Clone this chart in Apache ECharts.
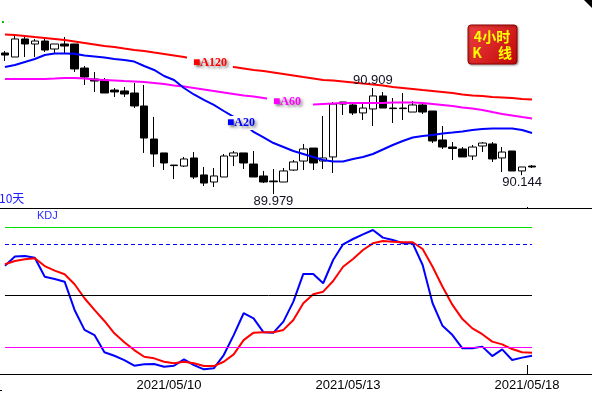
<!DOCTYPE html>
<html><head><meta charset="utf-8">
<script src="https://cdn.jsdelivr.net/npm/echarts@6/dist/echarts.min.js"></script>
<style>html,body{margin:0;padding:0;background:#fff}#c{width:592px;height:396px}</style>
</head><body><div id="c"></div>
<script>
// ---- data ----
const days = ['2021/05/05','2021/05/06','2021/05/07','2021/05/10','2021/05/11','2021/05/12','2021/05/13','2021/05/14','2021/05/17','2021/05/18'];
const hours = ['00:00','04:00','08:00','12:00','16:00','20:00'];
const tickLabels = ['2021/05/10','2021/05/13','2021/05/18'];

const opens = [91.216,91.181,91.339,91.295,91.321,91.251,91.295,91.295,91.084,90.988,
  90.979,90.891,90.883,90.865,90.751,90.461,90.339,90.233,90.224,90.295,
  90.146,90.084,90.128,90.312,90.339,90.242,90.137,90.093,90.084,90.189,
  90.268,90.382,90.268,90.304,90.786,90.760,90.690,90.725,90.839,90.733,
  90.733,90.698,90.760,90.707,90.453,90.391,90.374,90.312,90.400,90.418,
  90.295,90.356,90.181,90.224];
const closes = [91.198,91.339,91.295,91.321,91.242,91.295,91.277,91.076,91.005,90.970,
  90.865,90.874,90.856,90.751,90.470,90.330,90.251,90.228,90.286,90.128,
  90.075,90.137,90.312,90.339,90.251,90.128,90.084,90.086,90.181,90.260,
  90.374,90.251,90.295,90.768,90.768,90.690,90.733,90.839,90.733,90.728,
  90.728,90.760,90.698,90.444,90.391,90.378,90.304,90.391,90.426,90.286,
  90.347,90.181,90.216,90.216];
const lows = [91.146,91.181,91.181,91.181,91.225,91.216,91.216,91.049,90.935,90.874,
  90.865,90.830,90.830,90.733,90.339,90.216,90.189,90.110,90.216,90.110,
  90.049,90.040,90.128,90.224,90.198,90.128,90.075,89.979,90.084,90.181,
  90.189,90.189,90.198,90.163,90.672,90.672,90.628,90.575,90.733,90.602,
  90.628,90.698,90.681,90.426,90.374,90.277,90.304,90.277,90.347,90.260,
  90.172,90.181,90.144,90.207];
const highs = [91.234,91.383,91.356,91.339,91.339,91.295,91.356,91.295,91.102,91.049,
  90.997,90.909,90.918,90.953,90.935,90.655,90.339,90.233,90.304,90.347,
  90.216,90.207,90.330,90.356,90.339,90.356,90.181,90.198,90.207,90.277,
  90.418,90.382,90.663,90.786,90.786,90.768,90.768,90.909,90.874,90.821,
  90.865,90.795,90.777,90.707,90.575,90.435,90.391,90.409,90.435,90.435,
  90.391,90.356,90.216,90.233];

const ma20 = [91.093,91.111,91.137,91.163,91.198,91.212,91.212,91.210,91.194,91.185,
  91.176,91.163,91.155,91.141,91.102,91.067,91.014,90.979,90.909,90.852,
  90.804,90.760,90.707,90.655,90.602,90.523,90.475,90.426,90.391,90.356,
  90.330,90.303,90.277,90.264,90.264,90.286,90.303,90.330,90.369,90.409,
  90.444,90.475,90.488,90.497,90.510,90.518,90.527,90.540,90.549,90.554,
  90.554,90.554,90.540,90.514];
const ma60 = [90.988,90.988,90.988,90.988,90.988,90.992,90.997,90.997,90.992,90.983,
  90.979,90.975,90.970,90.966,90.962,90.953,90.944,90.931,90.922,90.909,
  90.896,90.883,90.869,90.856,90.843,90.834,90.821,90.808,90.795,90.782,
  90.769,90.764,90.769,90.773,90.777,90.777,90.777,90.777,90.777,90.782,
  90.782,90.782,90.777,90.769,90.760,90.751,90.738,90.729,90.716,90.698,
  90.681,90.668,90.654,90.641];
const ma120 = [91.378,91.374,91.365,91.356,91.348,91.339,91.330,91.317,91.304,91.291,
  91.277,91.269,91.255,91.242,91.234,91.220,91.207,91.194,91.181,91.163,
  91.146,91.128,91.111,91.093,91.080,91.067,91.058,91.045,91.032,91.019,
  91.005,90.992,90.979,90.975,90.966,90.957,90.948,90.940,90.931,90.918,
  90.909,90.900,90.891,90.883,90.874,90.865,90.852,90.843,90.839,90.830,
  90.826,90.821,90.812,90.808];

const kdjK = [67.4,72.7,73.0,72.0,61.0,59.7,58.1,41.7,30.1,27.1,
  17.1,15.1,12.6,9.3,10.1,10.3,8.7,9.3,13.0,9.7,
  7.2,7.8,15.5,27.1,39.8,36.8,28.7,28.5,34.9,46.5,
  62.6,62.6,57.2,70.7,79.8,82.9,85.6,88.1,83.7,82.3,
  80.4,80.4,67.8,45.6,32.5,27.1,19.4,19.4,20.4,14.9,
  18.8,12.6,14.0,15.1];
const kdjD = [68.2,70.1,71.1,71.7,67.2,64.5,62.4,56.6,48.5,41.7,
  35.3,28.1,22.9,18.4,14.5,13.6,11.6,10.7,11.6,10.7,
  9.1,9.1,11.6,15.9,24.2,28.5,28.7,28.7,30.1,35.9,
  45.6,50.8,52.3,58.5,66.8,71.3,76.5,80.4,81.7,81.3,
  81.0,81.0,77.1,66.8,55.2,44.6,36.4,31.0,27.6,23.3,
  21.7,19.0,17.1,16.9];
const kdjLevels = [90, 80, 50, 20];

// ---- build ----
const allSlots = [];
days.forEach(d => hours.forEach(h => allSlots.push(d + ' ' + h)));
const categories = allSlots.slice(1, 1 + opens.length);
const candles = opens.map((o, i) => [o, closes[i], lows[i], highs[i]]);
const hiIdx = 37, loIdx = 27, lastLoIdx = 52;

const FONT = '"Liberation Sans", Arial, sans-serif';
const chart = echarts.init(document.getElementById('c'));
const last = categories.length - 1;
const levelStyles = [
  {color:'#00e000', width:1, type:'solid'},
  {color:'#0000ff', width:1, type:[4,3]},
  {color:'#000000', width:1, type:'solid'},
  {color:'#ff00ff', width:1, type:'solid'}
];

chart.setOption({
  animation: false,
  backgroundColor: '#fff',
  grid: [
    {left: -3, top: 0, width: 540, height: 208},
    {left: -3, top: 208, width: 540, height: 166}
  ],
  xAxis: [
    {type:'category', gridIndex:0, data: categories, show:false, boundaryGap:true},
    {type:'category', gridIndex:1, data: categories, boundaryGap:true,
      axisLine:{show:false},
      axisTick:{show:false},
      axisLabel:{show:true, color:'#000', fontSize:13, fontFamily:FONT, margin:5,
        padding:[0,10,0,0],
        interval: (i, v) => tickLabels.includes(v.slice(0,10)) && v.endsWith('00:00'),
        formatter: v => v.slice(0,10)},
      splitLine:{show:false}}
  ],
  yAxis: [
    {type:'value', gridIndex:0, min:89.856, max:91.681, show:false, splitLine:{show:false}},
    {type:'value', gridIndex:1, min:4.5, max:100.9, show:false, splitLine:{show:false}}
  ],
  series: [
    {type:'candlestick', xAxisIndex:0, yAxisIndex:0, data: candles, barWidth:8,
      itemStyle:{color:'#fff', color0:'#000', borderColor:'#000', borderColor0:'#000', borderWidth:1},
      markPoint:{symbol:'circle', symbolSize:0, silent:true,
        label:{show:true, color:'#101020', fontSize:13, fontFamily:FONT},
        data:[
          {coord:[hiIdx, highs[hiIdx]], value:highs[hiIdx].toFixed(3), label:{position:'top', distance:1}},
          {coord:[loIdx, lows[loIdx]], value:lows[loIdx].toFixed(3), label:{position:'bottom', distance:1}},
          {coord:[lastLoIdx, lows[lastLoIdx]], value:lows[lastLoIdx].toFixed(3), label:{position:'bottom', distance:1}}
        ]}},
    {type:'line', xAxisIndex:0, yAxisIndex:0, data: ma120, symbol:'none', lineStyle:{color:'#ff0000', width:2}},
    {type:'line', xAxisIndex:0, yAxisIndex:0, data: ma60, symbol:'none', lineStyle:{color:'#ff00ff', width:2}},
    {type:'line', xAxisIndex:0, yAxisIndex:0, data: ma20, symbol:'none', lineStyle:{color:'#0000ff', width:2}},
    {type:'line', xAxisIndex:1, yAxisIndex:1, data: kdjK, symbol:'none', lineStyle:{color:'#0000ff', width:2},
      markLine:{silent:true, symbol:'none', label:{show:false},
        data: kdjLevels.map((lv, i) => [
          {coord:[0, lv], lineStyle: levelStyles[i]},
          {coord:[last, lv], lineStyle: levelStyles[i]}
        ])}},
    {type:'line', xAxisIndex:1, yAxisIndex:1, data: kdjD, symbol:'none', lineStyle:{color:'#ff0000', width:2}}
  ],
  graphic: [
    {type:'line', shape:{x1:0, y1:208.5, x2:592, y2:208.5}, style:{stroke:'#000', lineWidth:1}, z:50},
    {type:'line', shape:{x1:0, y1:374.5, x2:592, y2:374.5}, style:{stroke:'#000', lineWidth:1}, z:50},
    {type:'line', shape:{x1:527.5, y1:365, x2:527.5, y2:374}, style:{stroke:'#000', lineWidth:1}, z:50},
    {type:'rect', shape:{x:527, y:207, width:1, height:1}, style:{fill:'#000'}, z:50},
    {type:'rect', shape:{x:0, y:390, width:2, height:1}, style:{fill:'#000'}, z:50},
    {type:'polygon', shape:{points:[[584,0],[592,0],[592,8]]}, style:{fill:'#000'}, z:50},
    {type:'rect', shape:{x:2, y:21, width:2, height:2}, style:{fill:'#00c000'}, z:50},
    {type:'text', x:-1, y:192, style:{text:'10天', fill:'#1a1aff', font:'12px "Noto Sans CJK SC", sans-serif'}, z:50},
    {type:'text', x:37, y:210, style:{text:'KDJ', fill:'#2a2aff', font:'11px ' + FONT}, z:50},
    {type:'text', x:187, y:56, z:60, style:{text:'■A120', fill:'#ff0000', font:'bold 12px "Liberation Serif", serif',
      backgroundColor:'#fff', padding:[1,6,1,6],
      textShadowColor:'rgba(0,0,0,0.5)', textShadowBlur:3, textShadowOffsetX:2, textShadowOffsetY:2}},
    {type:'text', x:267, y:95, z:60, style:{text:'■A60', fill:'#ff00ff', font:'bold 12px "Liberation Serif", serif',
      backgroundColor:'#fff', padding:[1,12,1,6],
      textShadowColor:'rgba(0,0,0,0.5)', textShadowBlur:3, textShadowOffsetX:2, textShadowOffsetY:2}},
    {type:'text', x:222, y:116, z:60, style:{text:'■A20', fill:'#0000ff', font:'bold 12px "Liberation Serif", serif',
      backgroundColor:'#fff', padding:[1,4,1,5],
      textShadowColor:'rgba(0,0,0,0.5)', textShadowBlur:3, textShadowOffsetX:2, textShadowOffsetY:2}},
    {type:'group', z:60, children:[
      {type:'rect', shape:{x:468, y:25, width:49, height:39, r:3},
        style:{fill:new echarts.graphic.LinearGradient(0,0,1,1,[{offset:0,color:'#f04040'},{offset:1,color:'#c00808'}]),
          stroke:'#900000', lineWidth:1, shadowColor:'rgba(0,0,0,0.35)', shadowBlur:2, shadowOffsetX:1, shadowOffsetY:1}},
      {type:'text', x:492, y:37, style:{text:'4小时', fill:'#ffff00', font:'bold 14px "Noto Sans CJK SC", sans-serif', align:'center', verticalAlign:'middle'}},
      {type:'text', x:477, y:53, style:{text:'K', fill:'#ffff00', font:'bold 14px "Noto Sans CJK SC", sans-serif', align:'center', verticalAlign:'middle'}},
      {type:'text', x:505, y:53, style:{text:'线', fill:'#ffff00', font:'bold 14px "Noto Sans CJK SC", sans-serif', align:'center', verticalAlign:'middle'}}
    ]}
  ]
});
</script></body></html>
